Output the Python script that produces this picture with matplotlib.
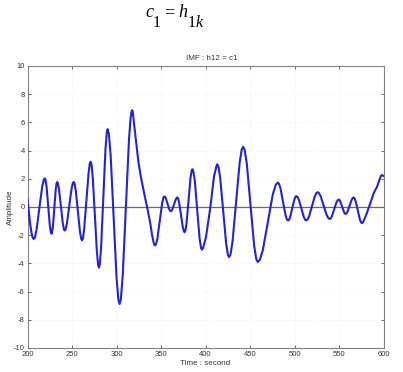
import matplotlib
matplotlib.use("Agg")
import matplotlib.pyplot as plt

# -------------------------
# data (time, amplitude)
# -------------------------
time = [200, 201.5, 203, 204.5, 206, 207,
        210.1, 213.25, 216.4, 219.5,
        221.4, 223.25, 225.1, 227,
        228.6, 230.15, 231.7, 233.3,
        235.4, 237.55, 239.7, 241.8,
        244.3, 246.85, 249.4, 251.9,
        254.25, 256.6, 258.95, 261.3,
        263.7, 266.15, 268.6, 271,
        273.3, 275.65, 278.0, 280.3,
        282.7, 285.15, 287.6, 290,
        293.4, 296.75, 300.1, 303.5,
        307.0, 310.55, 314.1, 315.9, 317.6,
        319.2, 321, 322.9, 324.7, 327.5, 331, 334.5, 337.8, 340, 341.8, 343.4,
        346.0, 348.6, 351.2, 353.8,
        355.6, 357.4, 359.2, 361,
        362.85, 364.7, 366.55, 368.4,
        370.4, 372.45, 374.5, 376.5,
        378.7, 380.9, 383.1, 385.3,
        388.0, 390.65, 393.3, 396,
        400.5, 405.5, 409.5, 413.2,
        416.5, 419.85, 423.2, 426.5,
        430.45, 434.4, 438.35, 442.3,
        446.4, 450.5, 454.6, 458.7,
        464.35, 470.0, 475.65, 481.3,
        484.2, 487.05, 489.9, 492.8,
        495.1, 497.45, 499.8, 502.1,
        504.9, 507.65, 510.4, 513.2,
        516.4, 519.6, 522.8, 526,
        529.4, 532.75, 536.1, 539.5,
        542.05, 544.6, 547.15, 549.7,
        551.6, 553.55, 555.5, 557.4,
        559.65, 561.9, 564.15, 566.4,
        568.75, 571.1, 573.45, 575.8,
        578.3, 581.2, 584.3, 587, 589, 592.5, 595, 597, 598.3, 600]

amplitude = [0.53, -0.35, -1.2, -1.85, -2.2, -2.27,
             -1.64, -0.12, 1.40, 2.03,
             1.46, 0.07, -1.33, -1.90,
             -1.36, -0.07, 1.23, 1.77,
             1.27, 0.05, -1.17, -1.67,
             -1.17, 0.05, 1.27, 1.77,
             1.17, -0.30, -1.76, -2.36,
             -1.55, 0.43, 2.40, 3.21,
             2.11, -0.55, -3.20, -4.30,
             -2.87, 0.61, 4.09, 5.52,
             3.71, -0.68, -5.07, -6.88,
             -4.87, 0.0, 4.86, 6.35, 6.87,
             6.2, 5.2, 4.1, 3.15, 2.1, 1.0, -0.05, -1.1, -2.0, -2.55, -2.73,
             -2.22, -0.99, 0.24, 0.75,
             0.60, 0.23, -0.15, -0.30,
             -0.16, 0.19, 0.53, 0.67,
             0.31, -0.56, -1.43, -1.79,
             -1.14, 0.45, 2.03, 2.68,
             1.85, -0.18, -2.20, -3.03,
             -2.15, 0.0, 2.15, 3.03,
             2.07, -0.27, -2.60, -3.56,
             -2.42, 0.36, 3.13, 4.27,
             3.08, 0.19, -2.71, -3.90,
             -3.08, -1.09, 0.91, 1.73,
             1.34, 0.39, -0.57, -0.96,
             -0.71, -0.10, 0.52, 0.77,
             0.52, -0.09, -0.70, -0.95,
             -0.66, 0.05, 0.76, 1.05,
             0.77, 0.10, -0.57, -0.85,
             -0.65, -0.16, 0.33, 0.53,
             0.38, 0.02, -0.34, -0.49,
             -0.32, 0.09, 0.50, 0.67,
             0.41, -0.24, -0.88, -1.14,
             -0.9, -0.45, 0.1, 0.6, 1.0, 1.4, 1.85, 2.2, 2.27, 2.2]

# extra readings close to each peak / trough so the tops stay round
near_time = [208.25, 218.25, 220.25, 226.25, 227.63, 232.67, 234.15, 240.95,
             242.8, 250.9, 252.85, 260.35, 262.3, 270.0, 271.95, 279.35,
             281.25, 289.05, 291.35, 302.15, 304.9, 316.9, 318.3, 342.6,
             344.45, 352.75, 354.5, 360.3, 361.75, 367.65, 369.2, 375.7,
             377.4, 384.4, 386.35, 394.95, 397.3, 412.3, 414.5, 425.2,
             428.1, 440.7, 443.95, 457.05, 460.95, 479.05, 482.45, 491.65,
             493.75, 501.15, 503.2, 512.1, 514.5, 524.7, 527.35, 538.15,
             540.5, 548.7, 550.5, 556.6, 558.3, 565.5, 567.35, 574.85, 576.8]
near_amplitude = [-2.17, 1.93, 1.94, -1.81, -1.81, 1.68, 1.69, -1.59,
                  -1.59, 1.69, 1.67, -2.26, -2.23, 3.08, 3.03, -4.12,
                  -4.06, 5.28, 5.22, -6.58, -6.55, 6.75, 6.75, -2.68,
                  -2.65, 0.67, 0.73, -0.28, -0.28, 0.65, 0.61, -1.73,
                  -1.68, 2.57, 2.54, -2.89, -2.90, 2.90, 2.87, -3.40,
                  -3.37, 4.08, 4.07, -3.70, -3.76, 1.59, 1.67, -0.90,
                  -0.92, 0.73, 0.73, -0.91, -0.90, 1.00, 1.00, -0.80,
                  -0.82, 0.50, 0.51, -0.47, -0.46, 0.64, 0.63, -1.10, -1.10]

x_ticks = [200, 250, 300, 350, 400, 450, 500, 550, 600]
y_ticks = [-10, -8, -6, -4, -2, 0, 2, 4, 6, 8, 10]

# merge both readings in time order
pts = sorted(zip(time + near_time, amplitude + near_amplitude))
t_all = [p[0] for p in pts]
a_all = [p[1] for p in pts]

# -------------------------
# figure
# -------------------------
W, H = 403, 372
fig = plt.figure(figsize=(W / 100, H / 100), dpi=100)
fig.patch.set_facecolor("white")

left, right, top, bottom = 27.5, 383.5, 66, 348
ax = fig.add_axes([left / W, 1 - bottom / H, (right - left) / W, (bottom - top) / H])
ax.set_axisbelow(True)

ax.axhline(0, color="#6a6a6a", lw=0.9, zorder=2.5)
ax.plot(t_all, a_all, color="#2424cc", lw=1.5, solid_joinstyle="round", zorder=3)

ax.set_xlim(200, 600)
ax.set_ylim(-10, 10)
ax.set_xticks(x_ticks)
ax.set_yticks(y_ticks)
ax.grid(True, color="#eeeeee", ls=":", lw=0.6)

tick_font = dict(family="Liberation Sans", size=5.5, color="#333333")
ax.set_xticklabels([str(v) for v in x_ticks], **tick_font)
ax.set_yticklabels([str(v) for v in y_ticks], **tick_font)
ax.tick_params(direction="in", length=2.5, width=0.6, color="#555555",
               top=True, right=True, pad=2)
for s in ax.spines.values():
    s.set_color("#808080")
    s.set_linewidth(0.8)

ax.set_xlabel("Time : second", family="Liberation Sans", size=5.8, color="#333333", labelpad=1.5)
ax.set_ylabel("Amplitude", family="Liberation Sans", size=5.8, color="#333333", labelpad=0)
ax.set_title("IMF : h12 = c1", family="Liberation Sans", size=5.8, color="#333333",
             x=(212 - left) / (right - left), pad=4)

# -------------------------
# header  c1 = h1k
# -------------------------
serif = "Liberation Serif"
base = 1 - 17 / H
sub = 1 - 26.7 / H
fig.text(145 / W, base, "c", family=serif, style="italic", size=13, va="baseline")
fig.text(153 / W, sub, "1", family=serif, size=11.5, va="baseline")
fig.text(164 / W, base, "=", family=serif, size=13, va="baseline")
fig.text(178.5 / W, base, "h", family=serif, style="italic", size=13, va="baseline")
fig.text(188 / W, sub, "1", family=serif, size=11.5, va="baseline")
fig.text(195.5 / W, sub, "k", family=serif, style="italic", size=11.5, va="baseline")

fig.savefig("out.png", dpi=100)
